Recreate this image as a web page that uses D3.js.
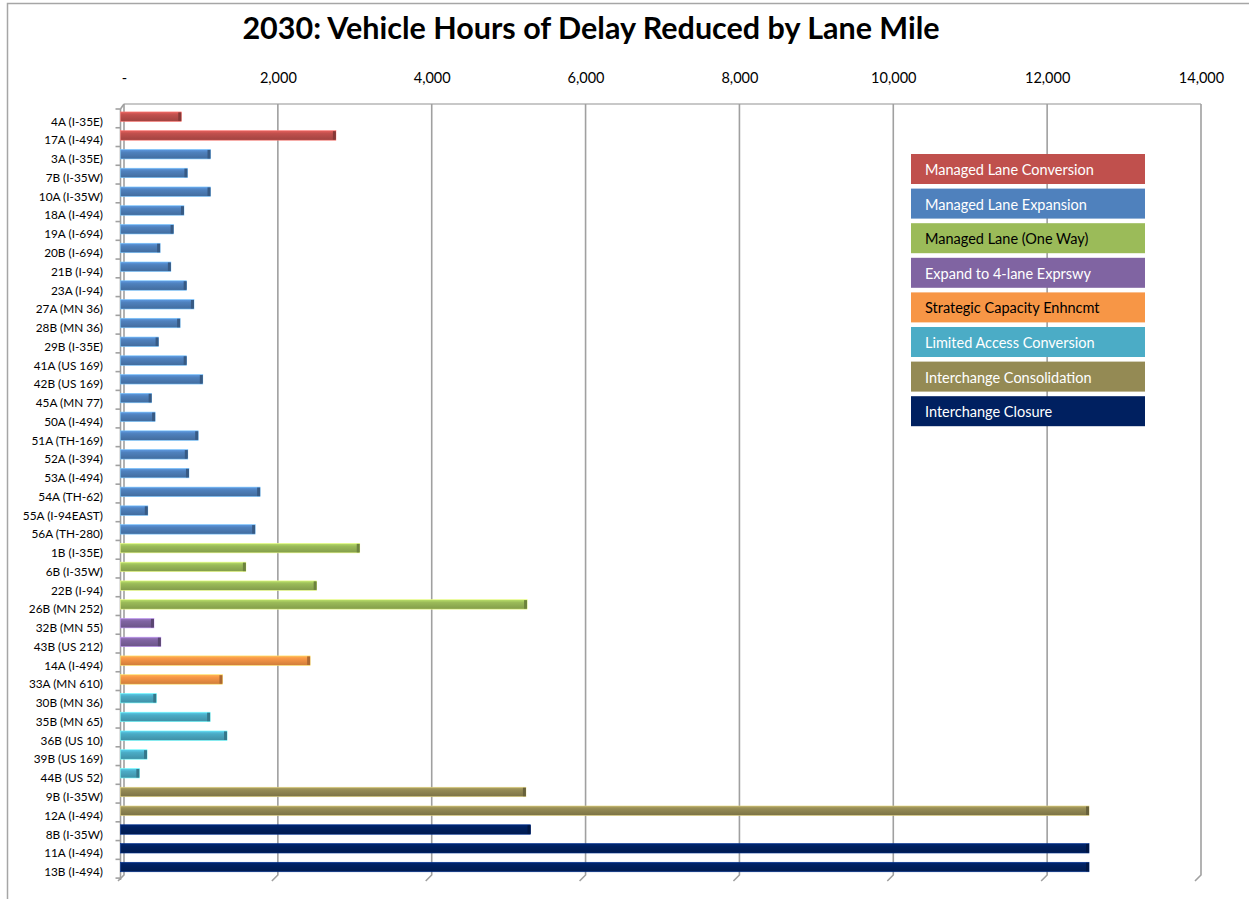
<!DOCTYPE html>
<html>
<head>
<meta charset="utf-8">
<script src="https://cdn.jsdelivr.net/npm/d3@7"></script>
<style>
  body { margin: 0; background: #fff; }
  svg text { font-family: Lato, "Open Sans", sans-serif; }
</style>
</head>
<body>
<svg class="chart"></svg>
<script>
// data
var categories = ["4A (I-35E)", "17A (I-494)", "3A (I-35E)", "7B (I-35W)", "10A (I-35W)", "18A (I-494)",
  "19A (I-694)", "20B (I-694)", "21B (I-94)", "23A (I-94)", "27A (MN 36)", "28B (MN 36)", "29B (I-35E)",
  "41A (US 169)", "42B (US 169)", "45A (MN 77)", "50A (I-494)", "51A (TH-169)", "52A (I-394)", "53A (I-494)",
  "54A (TH-62)", "55A (I-94EAST)", "56A (TH-280)", "1B (I-35E)", "6B (I-35W)", "22B (I-94)", "26B (MN 252)",
  "32B (MN 55)", "43B (US 212)", "14A (I-494)", "33A (MN 610)", "30B (MN 36)", "35B (MN 65)", "36B (US 10)",
  "39B (US 169)", "44B (US 52)", "9B (I-35W)", "12A (I-494)", "8B (I-35W)", "11A (I-494)", "13B (I-494)"];

var values = [790, 2800, 1170, 870, 1170, 825, 690, 515, 655, 860, 955, 775, 495, 860, 1070, 405, 450,
  1010, 875, 890, 1815, 355, 1750, 3110, 1630, 2550, 5285, 435, 525, 2465, 1325, 465, 1165, 1385, 345, 245,
  5270, 12590, 5330, 12590, 12590];

var types = ["Managed Lane Conversion", "Managed Lane Expansion", "Managed Lane (One Way)",
  "Expand to 4-lane Exprswy", "Strategic Capacity Enhncmt", "Limited Access Conversion",
  "Interchange Consolidation", "Interchange Closure"];

// how many bars of each type, in category order
var typeCounts = [2, 21, 4, 2, 2, 5, 2, 3];

var tickValues = [0, 2000, 4000, 6000, 8000, 10000, 12000, 14000];

var typeColors = ["#C0504D", "#4F81BD", "#9BBB59", "#8064A2", "#F79646", "#4BACC6", "#948A54", "#002060"];
var darkText = ["Managed Lane (One Way)", "Strategic Capacity Enhncmt"];

var catType = [];
typeCounts.forEach(function(n, i) {
  for (var k = 0; k < n; k++) catType.push(types[i]);
});
var data = categories.map(function(c, i) {
  return { name: c, value: values[i], type: catType[i] };
});

var width = 1249, height = 899;
var svg = d3.select(".chart").attr("width", width).attr("height", height);

var color = d3.scaleOrdinal().domain(types).range(typeColors);

// back wall scale and front (bars) scale, shifted for the 3d look
var xBack = d3.scaleLinear().domain([0, 14000]).range([124, 1201]);
var x = d3.scaleLinear().domain([0, 14000]).range([120.5, 1197.5]);
var y = d3.scaleBand().domain(categories).range([107.3, 876.4]);

// gradients for the bars
var defs = svg.append("defs");
types.forEach(function(t, i) {
  var c = d3.color(color(t));
  var g = defs.append("linearGradient").attr("id", "g" + i)
    .attr("x1", 0).attr("y1", 0).attr("x2", 0).attr("y2", 1);
  g.append("stop").attr("offset", "0%").attr("stop-color", c.brighter(0.5));
  g.append("stop").attr("offset", "30%").attr("stop-color", c);
  g.append("stop").attr("offset", "100%").attr("stop-color", c.darker(0.5));
});

// outer frame
svg.append("rect").attr("x", 7.5).attr("y", 3.5).attr("width", 1260).attr("height", 910)
  .attr("fill", "none").attr("stroke", "#a6a6a6").attr("stroke-width", 1.5);

svg.append("text")
  .attr("x", 591).attr("y", 39)
  .attr("text-anchor", "middle")
  .style("font-size", "30.5px").style("font-weight", "bold")
  .text("2030: Vehicle Hours of Delay Reduced by Lane Mile");

// walls and gridlines
var grid = svg.append("g").attr("stroke", "#a0a0a0").attr("stroke-width", 1.6).attr("fill", "none");
grid.append("line").attr("x1", xBack(0)).attr("x2", xBack(14000)).attr("y1", 104).attr("y2", 104)
  .attr("stroke", "#c8c8c8").attr("stroke-width", 2);
grid.append("path").attr("d", "M" + x(0) + ",109L" + xBack(0) + ",104");
tickValues.forEach(function(v) {
  grid.append("path")
    .attr("d", "M" + xBack(v) + ",104V875L" + (xBack(v) - 6) + ",881");
});
// left axis with ticks between categories
grid.append("line").attr("x1", x(0)).attr("x2", x(0)).attr("y1", 109).attr("y2", 880);
categories.concat([null]).forEach(function(c, i) {
  var yy = 109 + i * y.step();
  grid.append("line").attr("x1", x(0) - 5).attr("x2", x(0)).attr("y1", yy).attr("y2", yy);
});

// top axis labels
var axis = d3.axisTop(xBack)
  .tickValues(tickValues)
  .tickSize(0)
  .tickFormat(function(d) { return d === 0 ? "-" : d3.format(",")(d); });
var ax = svg.append("g").attr("transform", "translate(0,86)").call(axis);
ax.select(".domain").remove();
ax.selectAll("text").style("font-size", "14.5px").style("font-family", "Lato, sans-serif").attr("fill", "#000");

// category labels
svg.append("g").selectAll("text")
  .data(categories)
  .enter().append("text")
  .attr("x", 103)
  .attr("y", function(d) { return y(d) + y.step() / 2 + 9; })
  .attr("text-anchor", "end")
  .style("font-size", "11.8px")
  .text(function(d) { return d; });

// bars
var barH = 9.5;
var bar = svg.append("g").selectAll("g")
  .data(data)
  .enter().append("g")
  .attr("transform", function(d) { return "translate(0," + (y(d.name) + (y.step() - barH) / 2) + ")"; });
bar.append("rect")
  .attr("x", x(0))
  .attr("width", function(d) { return x(d.value) - x(0); })
  .attr("height", barH)
  .attr("fill", function(d) { return "url(#g" + types.indexOf(d.type) + ")"; })
  .attr("stroke", function(d) { return d3.color(color(d.type)).brighter(1.2); })
  .attr("stroke-width", 0.6);
bar.append("rect")
  .attr("x", function(d) { return x(d.value) - 3; })
  .attr("y", 0.5)
  .attr("width", 3)
  .attr("height", barH - 1)
  .attr("fill", function(d) { return d3.color(color(d.type)).darker(1); });

// legend
var legend = svg.append("g").selectAll("g")
  .data(types)
  .enter().append("g")
  .attr("transform", function(d, i) { return "translate(911," + (154 + i * 34.6) + ")"; });
legend.append("rect")
  .attr("width", 234).attr("height", 30)
  .attr("fill", function(d) { return color(d); });
legend.append("text")
  .attr("x", 14).attr("y", 21)
  .style("font-size", "14.5px")
  .attr("fill", function(d) { return darkText.indexOf(d) >= 0 ? "#000" : "#fff"; })
  .text(function(d) { return d; });
</script>
</body>
</html>
